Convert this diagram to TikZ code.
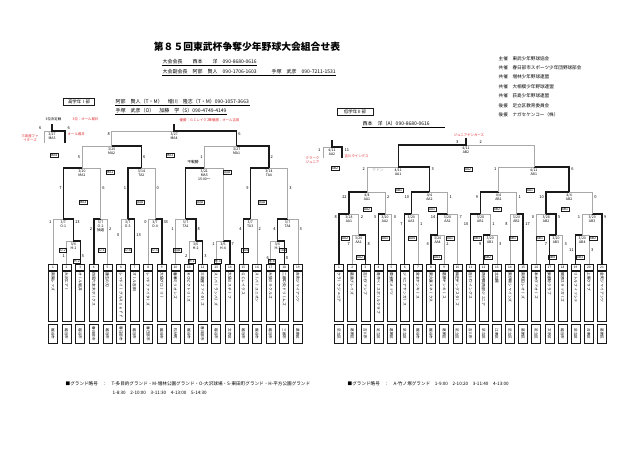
\documentclass[tikz,border=0pt]{standalone}
\usepackage{fontspec}
\usetikzlibrary{positioning,calc}
\newfontfamily\jp{Noto Sans CJK JP}
\newfontfamily\jpv[Vertical=RotatedGlyphs,RawFeature=+vert]{Noto Sans CJK JP}
\definecolor{Ink}{HTML}{1A1A1A}
\definecolor{Loser}{HTML}{A8A8A8}
\definecolor{Note}{HTML}{E0282D}

\begin{document}
\begin{tikzpicture}[x=1pt,y=-1pt,
  every node/.style={font=\jp\fontsize{3.8}{4.6}\selectfont,inner sep=0.5pt},
  win/.style={line width=1.4pt,Ink},
  lose/.style={line width=0.45pt,Loser},
  mlab/.style={anchor=north,align=center,yshift=-0.8pt,font=\jp\fontsize{3.5}{4.3}\selectfont},
  score/.style={font=\jp\fontsize{4}{4}\selectfont},
  refbox/.style={draw=Ink,line width=0.3pt,inner sep=0.7pt,font=\jp\fontsize{3.4}{3.4}\selectfont},
  numbox/.style={draw=Ink,line width=0.6pt,anchor=south,minimum width=9pt,minimum height=6pt,inner sep=0pt,font=\jp\fontsize{3.2}{3.2}\selectfont},
  namebox/.style={draw=Ink,line width=0.6pt,rotate=-90,anchor=west,text width=48pt,minimum height=9pt,inner sep=1pt,align=left,font=\jpv\fontsize{3.8}{3.8}\selectfont},
  citybox/.style={draw=Ink,line width=0.6pt,rotate=-90,anchor=west,minimum width=19pt,minimum height=9pt,inner sep=0pt,font=\jpv\fontsize{3.6}{3.6}\selectfont},
  hdr/.style={anchor=west,font=\jp\fontsize{4.6}{5}\selectfont},
  note/.style={text=Note,font=\jp\fontsize{3.4}{4}\selectfont}]
  \fill[white] (0,0) rectangle (640,452);
  \useasboundingbox (0,0) rectangle (640,452);

  \node[font=\jp\bfseries\fontsize{9.8}{10}\selectfont] (title) at (247,47) {第８５回東武杯争奪少年野球大会組合せ表};
  \node[hdr,font=\jp\fontsize{5}{5}\selectfont] (pres) at (162,62) {大会会長　　西本　　洋　090-8680-0616};
  \draw[line width=0.3pt] (pres.south west) -- (pres.south east);
  \node[hdr,font=\jp\fontsize{5}{5}\selectfont] (vice) at (162,72) {大会副会長　阿部　賢人　090-1706-1603　　　手塚　武彦　090-7211-1531};
  \draw[line width=0.3pt] (vice.south west) -- (vice.south east);
  \foreach \r/\t [count=\k] in {主催/東武少年野球協会,共催/春日部市スポーツ少年団野球部会,共催/増林少年野球連盟,共催/大相模少年野球連盟,共催/荻島少年野球連盟,後援/足立区教育委員会,後援/ナガセケンコー（株）}
    \node[hdr] (sp\k) at (498,{49+9.4*\k}) {\r　\t};

  \node[draw=Ink,line width=0.6pt,minimum width=31pt,minimum height=7pt,font=\jp\fontsize{4.4}{4.4}\selectfont] (div1) at (79,102) {高学年Ⅰ部};
  \node[hdr,font=\jp\fontsize{5}{5}\selectfont] (con1) at (115,102) {阿部　賢人（T・M）　増川　隆志（T・M）090-1057-3663};
  \draw[line width=0.3pt] (con1.south west) -- (con1.south east);
  \node[hdr,font=\jp\fontsize{5}{5}\selectfont] (con2) at (115,111) {手塚　武彦（O）　加藤　学（S）090-4749-4149};
  \draw[line width=0.3pt] (con2.south west) -- (con2.south east);
  \node[draw=Ink,line width=0.6pt,minimum width=36pt,minimum height=7pt,font=\jp\fontsize{4.4}{4.4}\selectfont] (div2) at (355,112) {低学年Ⅱ部};
  \node[hdr,font=\jp\fontsize{5}{5}\selectfont] (con3) at (362,124) {西本　洋（A）090-8680-0616　　　};
  \draw[line width=0.3pt] (con3.south west) -- (con3.south east);

  \node[anchor=west,font=\jp\fontsize{3.4}{4}\selectfont] (thirdL) at (45,119) {3位決定戦};
  \node[note,anchor=west] (res3) at (72,119) {3位：オール堀井};
  \node[note,anchor=west] (res1) at (179,120) {優勝：ＧＣレイクス};
  \node[note,anchor=west] (res2) at (208,120) {準優勝：オール吉田};
  \node[note,align=center] (t3a) at (30,138) {三島屋ファ\\イターズ};
  \node[note,anchor=west] (t3b) at (67,134) {オール堀井};
  \node[note] (champR) at (469,135) {ジュニアヤンガース};
  \node[note,align=right,anchor=east] (t3c) at (320,160) {クラーク\\ジュニア};
  \node[note,anchor=west] (t3d) at (344,156) {吉川ウイングス};
  \node[text=Loser] (yadon) at (378,170) {ヤドン};
  \node (walk) at (193,162) {不戦勝};

  \foreach \nm/\ct [count=\i] in {南陽レッズ/越谷市,大沢エアー/越谷市,オール堀井/越谷市,四恩六本木ホークス/春日部市,蓮生の刃/越谷市,レッドイーグルスｓｅｆｆ/春日部市,オール吉田/越谷市,レッドファイターズ/春日部市,大袋グローリー/越谷市,春華ミリオンズ/松伏町,ＫＯビクトリーズ/越谷市,三島屋ファイターズ/春日部市,スーパーランパーズ/越谷市,大袋ミスチーフ/文京区,ＧＣレイクス/越谷市,スーパーユニオン/越谷市,大袋ミラクルズ/越谷市,二郷中央ドリームズ/三郷市,吉町ジャイアンツ/葛飾区}{
    \pgfmathsetmacro\tx{53+(\i-1)*13.6}
    \node[numbox] (L\i) at (\tx,271) {\i};
    \node[namebox] (Ln\i) at (\tx,271) {\nm};
    \node[citybox] (Lc\i) at (\tx,324) {\ct};
  }
  \foreach \nm/\ct [count=\i] in {クラークジュニア/足立区,葛島ブレイズ/葛飾区,吉川ヴァンプ/吉川市,青井ベースボールクラブ/足立区,東金町メッツ/葛飾区,ジュニアヤンガース/足立区,宮本ヤンキース/越谷市,東久喜スネークス/越谷市,葛飾ヤンキース/葛飾区,梅田ヤングスターズ/足立区,吉川ウイングス/吉川市,西伊興西部ジュニア/足立区,北加賀/江東区,東伊興シャインズ/足立区,南町田レオーズ/葛飾区,本木ヴァオーズ/足立区,東都砂クラブ/文京区,関原スラッガーズ/越谷市,リトルフィッシュ/足立区,上野クラブ/台東区,金町ジャイアンツ/葛飾区}{
    \pgfmathsetmacro\tx{339+(\i-1)*13.15}
    \node[numbox] (R\i) at (\tx,271) {\i};
    \node[namebox] (Rn\i) at (\tx,271) {\nm};
    \node[citybox] (Rc\i) at (\tx,324) {\ct};
  }

  \coordinate (lH1) at (73.4,241);
  \draw[lose] (L2.north) |- (lH1);
  \draw[win] (L3.north) |- (lH1);
  \node[mlab] (lH1t) at (lH1) {3/6\\H-1};
  \coordinate (lH2) at (195.8,241);
  \draw[lose] (L11.north) |- (lH2);
  \draw[win] (L12.north) |- (lH2);
  \node[mlab] (lH2t) at (lH2) {3/6\\H-2};
  \coordinate (lH4) at (223,241);
  \draw[lose] (L13.north) |- (lH4);
  \draw[win] (L14.north) |- (lH4);
  \node[mlab] (lH4t) at (lH4) {3/6\\H-4};
  \coordinate (lH3) at (277.4,241);
  \draw[lose] (L17.north) |- (lH3);
  \draw[win] (L18.north) |- (lH3);
  \node[mlab] (lH3t) at (lH3) {3/6\\H-3};

  \coordinate (lO1) at (63.2,219);
  \draw[lose] (L1.north) |- (lO1);
  \draw[win] (lH1) |- (lO1);
  \node[mlab] (lO1t) at (lO1) {3/7\\O-1};
  \coordinate (lO2) at (100.6,219);
  \draw[lose] (L5.north) |- (lO2);
  \draw[win] (L4.north) |- (lO2);
  \node[mlab] (lO2t) at (lO2) {3/7\\O-2\\抽選};
  \coordinate (lO3) at (127.8,219);
  \draw[lose] (L6.north) |- (lO3);
  \draw[win] (L7.north) |- (lO3);
  \node[mlab] (lO3t) at (lO3) {3/7\\O-3};
  \coordinate (lO4) at (155,219);
  \draw[lose] (L8.north) |- (lO4);
  \draw[win] (L9.north) |- (lO4);
  \node[mlab] (lO4t) at (lO4) {3/7\\O-4};
  \coordinate (lTA1) at (185.6,219);
  \draw[lose] (L10.north) |- (lTA1);
  \draw[win] (lH2) |- (lTA1);
  \node[mlab] (lTA1t) at (lTA1) {3/7\\TA1};
  \coordinate (lTA3) at (250.2,219);
  \draw[lose] (L16.north) |- (lTA3);
  \draw[win] (L15.north) |- (lTA3);
  \node[mlab] (lTA3t) at (lTA3) {3/7\\TA3};
  \coordinate (lTA4) at (287.6,219);
  \draw[lose] (L19.north) |- (lTA4);
  \draw[win] (lH3) |- (lTA4);
  \node[mlab] (lTA4t) at (lTA4) {3/7\\TA4};

  \coordinate (lQ1) at (81.9,168);
  \draw[lose] (lO2) |- (lQ1);
  \draw[win] (lO1) |- (lQ1);
  \node[mlab] (lQ1t) at (lQ1) {3/20\\MA1};
  \coordinate (lQ2) at (141.4,168);
  \draw[lose] (lO4) |- (lQ2);
  \draw[win] (lO3) |- (lQ2);
  \node[mlab] (lQ2t) at (lQ2) {3/14\\TA2};
  \coordinate (lQ3) at (204.3,168);
  \draw[lose] (lH4) |- (lQ3);
  \draw[win] (lTA1) |- (lQ3);
  \node[mlab] (lQ3t) at (lQ3) {3/21\\MA5\\15:00～};
  \coordinate (lQ4) at (268.9,168);
  \draw[lose] (lTA4) |- (lQ4);
  \draw[win] (lTA3) |- (lQ4);
  \node[mlab] (lQ4t) at (lQ4) {3/14\\TA4};

  \coordinate (lS1) at (111.65,146);
  \draw[lose] (lQ1) |- (lS1);
  \draw[win] (lQ2) |- (lS1);
  \node[mlab] (lS1t) at (lS1) {3/20\\MA2};
  \coordinate (lS2) at (236.6,146);
  \draw[lose] (lQ3) |- (lS2);
  \draw[win] (lQ4) |- (lS2);
  \node[mlab] (lS2t) at (lS2) {3/27\\MA1};

  \coordinate (lF) at (174.1,131);
  \coordinate (lFtop) at (174.1,124);
  \draw[lose] (lS1) |- (lF);
  \draw[win] (lS2) |- (lF) -- (lFtop);
  \node[mlab] (lFt) at (lF) {3/27\\MA4};

  \coordinate (lT) at (52,131);
  \coordinate (lTtop) at (52,124);
  \coordinate (lTa) at (44,143);
  \coordinate (lTb) at (65,143);
  \draw[lose] (lTa) |- (lT);
  \draw[win] (lTb) |- (lT) -- (lTtop);
  \node[mlab] (lTt) at (lT) {3/27\\MA3};

  \coordinate (rA1) at (358.7,235);
  \draw[lose] (R2.north) |- (rA1);
  \draw[win] (R3.north) |- (rA1);
  \node[mlab] (rA1t) at (rA1) {3/20\\AA1};
  \coordinate (rA4) at (437.6,235);
  \draw[lose] (R9.north) |- (rA4);
  \draw[win] (R8.north) |- (rA4);
  \node[mlab] (rA4t) at (rA4) {3/20\\AA4};
  \coordinate (rB1) at (490.2,235);
  \draw[lose] (R13.north) |- (rB1);
  \draw[win] (R12.north) |- (rB1);
  \node[mlab] (rB1t) at (rB1) {3/20\\AB1};
  \coordinate (rB3) at (556,235);
  \draw[lose] (R18.north) |- (rB3);
  \draw[win] (R17.north) |- (rB3);
  \node[mlab] (rB3t) at (rB3) {3/20\\AB3};
  \coordinate (rB4) at (582.3,235);
  \draw[lose] (R20.north) |- (rB4);
  \draw[win] (R19.north) |- (rB4);
  \node[mlab] (rB4t) at (rB4) {3/20\\AB4};

  \coordinate (rM1) at (348.9,214);
  \draw[lose] (rA1) |- (rM1);
  \draw[win] (R1.north) |- (rM1);
  \node[mlab] (rM1t) at (rM1) {3/28\\AA1};
  \coordinate (rM2) at (385,214);
  \draw[lose] (R5.north) |- (rM2);
  \draw[win] (R4.north) |- (rM2);
  \node[mlab] (rM2t) at (rM2) {3/20\\AA2};
  \coordinate (rM3) at (411.3,214);
  \draw[lose] (R7.north) |- (rM3);
  \draw[win] (R6.north) |- (rM3);
  \node[mlab] (rM3t) at (rM3) {3/20\\AA3};
  \coordinate (rM4) at (447.5,214);
  \draw[lose] (R10.north) |- (rM4);
  \draw[win] (rA4) |- (rM4);
  \node[mlab] (rM4t) at (rM4) {3/28\\AA2};
  \coordinate (rM5) at (480.4,214);
  \draw[lose] (rB1) |- (rM5);
  \draw[win] (R11.north) |- (rM5);
  \node[mlab] (rM5t) at (rM5) {3/28\\AB1};
  \coordinate (rM6) at (516.5,214);
  \draw[lose] (R14.north) |- (rM6);
  \draw[win] (R15.north) |- (rM6);
  \node[mlab] (rM6t) at (rM6) {3/20\\AB2};
  \coordinate (rM7) at (546.1,214);
  \draw[lose] (R16.north) |- (rM7);
  \draw[win] (rB3) |- (rM7);
  \node[mlab] (rM7t) at (rM7) {3/28\\AB2};
  \coordinate (rM8) at (592.1,214);
  \draw[lose] (rB4) |- (rM8);
  \draw[win] (R21.north) |- (rM8);
  \node[mlab] (rM8t) at (rM8) {3/20\\AB3};

  \coordinate (rQ1) at (367,192);
  \draw[lose] (rM2) |- (rQ1);
  \draw[win] (rM1) |- (rQ1);
  \node[mlab] (rQ1t) at (rQ1) {4/4\\AA1};
  \coordinate (rQ2) at (429.4,192);
  \draw[lose] (rM4) |- (rQ2);
  \draw[win] (rM3) |- (rQ2);
  \node[mlab] (rQ2t) at (rQ2) {4/4\\AA2};
  \coordinate (rQ3) at (498.5,192);
  \draw[lose] (rM6) |- (rQ3);
  \draw[win] (rM5) |- (rQ3);
  \node[mlab] (rQ3t) at (rQ3) {4/4\\AB1};
  \coordinate (rQ4) at (569.1,192);
  \draw[lose] (rM8) |- (rQ4);
  \draw[win] (rM7) |- (rQ4);
  \node[mlab] (rQ4t) at (rQ4) {4/4\\AB2};

  \coordinate (rS1) at (398.2,167);
  \draw[lose] (rQ1) |- (rS1);
  \draw[win] (rQ2) |- (rS1);
  \node[mlab] (rS1t) at (rS1) {4/11\\AA1};
  \coordinate (rS2) at (533.8,167);
  \draw[lose] (rQ3) |- (rS2);
  \draw[win] (rQ4) |- (rS2);
  \node[mlab] (rS2t) at (rS2) {4/11\\AB1};

  \coordinate (rF) at (466,145);
  \coordinate (rFtop) at (466,138);
  \draw[lose] (rS2) |- (rF);
  \draw[win] (rS1) |- (rF) -- (rFtop);
  \node[mlab] (rFt) at (rF) {4/11\\AB2};

  \coordinate (rT) at (332,147);
  \coordinate (rTtop) at (332,140);
  \coordinate (rTa) at (323,158);
  \coordinate (rTb) at (342,158);
  \draw[lose] (rTa) |- (rT);
  \draw[win] (rTb) |- (rT) -- (rTtop);
  \node[mlab] (rTt) at (rT) {4/11\\AA2};

  \foreach \p/\a/\v [count=\k] in {{65.6,256}/east/1,{81.2,256}/west/5,{188,256}/east/2,{203.6,256}/west/3,{215.2,244}/east/1,{230.8,244}/west/7,{269.6,258}/east/6,{285.2,258}/west/8,{52,222}/east/1,{74.4,222}/west/13,{92.8,229}/east/2,{108.4,229}/west/2,{120,235}/east/0,{135.6,235}/west/13,{147.2,222}/east/0,{162.8,222}/west/33,{174.4,229}/east/1,{196.8,229}/west/8,{242.4,229}/east/4,{258,229}/west/2,{276.4,229}/east/4,{298.8,229}/west/3,{62.2,188}/east/7,{101.6,188}/west/6,{126.8,188}/east/1,{156,188}/west/0,{249.2,188}/east/9,{288.6,188}/west/3,{80.9,157}/east/5,{142.4,157}/west/6,{203.3,157}/east/1,{269.9,157}/west/2,{110.6,134}/east/8,{237.6,134}/west/6,{42,128}/east/6,{67,128}/west/6}
    \node[score,anchor=\a] (ls\k) at (\p) {\v};
  \foreach \p/\a/\v [count=\k] in {{350.6,244}/east/7,{366.8,244}/west/8,{429.5,244}/east/4,{445.7,244}/west/2,{482.1,244}/east/9,{498.3,244}/west/3,{547.9,244}/east/7,{564,244}/west/3,{574.2,250}/east/11,{590.3,250}/west/3,{337.5,217}/east/8,{360.2,217}/west/2,{377,217}/east/5,{393.1,217}/west/0,{403.2,224}/east/7,{419.4,224}/west/1,{436.1,217}/east/14,{458.8,217}/west/7,{469,224}/east/10,{491.7,224}/west/1,{508.4,224}/east/8,{524.6,224}/west/17,{534.7,217}/east/0,{557.5,217}/west/5,{580.8,217}/east/1,{603.5,217}/west/9,{347.4,197}/east/22,{386.5,197}/west/2,{409.8,197}/east/10,{449,197}/west/1,{478.9,197}/east/9,{518,197}/west/1,{544.6,197}/east/10,{593.6,197}/west/0,{365.5,169}/east/2,{430.9,169}/west/3,{497,169}/east/1,{570.6,169}/west/6,{459,142}/east/3,{479,142}/west/2,{321,150}/east/1,{344,150}/west/11}
    \node[score,anchor=\a] (rs\k) at (\p) {\v};

  \foreach \p/\t [count=\k] in {{54,155}/MA4,{110,172}/MA1,{170,155}/MA3,{227,172}/当該,{83,202}/MA3,{140,202}/当該,{200,202}/当該,{262,202}/当該,{63,250}/O-2,{102,250}/O-1,{128,250}/O-4,{155,250}/O-3,{177,250}/当該,{245,250}/TA4,{283,250}/TA3,{77,261}/H-2,{192,261}/H-1,{218,261}/H-3,{272,261}/H-4}
    \node[refbox] (lr\k) at (\p) {\t};
  \foreach \p/\t [count=\k] in {{335,168}/AB2,{468,169}/AA2,{399,190}/AB1,{530,190}/AA1,{367,209}/AA2,{432,209}/AA1,{497,209}/AB2,{565,209}/AB1,{345,238}/AA2,{385,238}/AA1,{412,238}/AA4,{450,238}/AA1,{477,238}/AB3,{513,238}/AB1,{540,238}/AB1,{593,238}/AB2,{360,257}/AA2,{437,257}/AA3,{488,257}/AB2,{552,257}/AB4,{580,257}/AB3}
    \node[refbox] (rr\k) at (\p) {\t};

  \node[hdr,font=\jp\fontsize{4.6}{5}\selectfont] (gnd1) at (65,384) {■グランド略号　：　T-多目的グランド・M-増林公園グランド・O-大沢球場・S-東田町グランド・H-平方公園グランド};
  \node[hdr,font=\jp\fontsize{4.6}{5}\selectfont] (gnd1b) at (112,393) {1-8:30　2-10:00　3-11:30　4-13:00　5-14:30};
  \node[hdr,font=\jp\fontsize{4.6}{5}\selectfont] (gnd2) at (347,384) {■グランド略号　：　A-竹ノ塚グランド　1-9:00　2-10:20　3-11:40　4-13:00};
\end{tikzpicture}
\end{document}
